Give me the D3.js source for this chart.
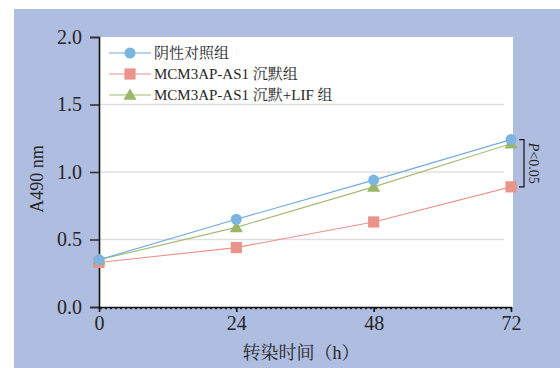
<!DOCTYPE html>
<html>
<head>
<meta charset="utf-8">
<script src="https://cdn.jsdelivr.net/npm/d3@7"></script>
<style>
  html, body { margin: 0; padding: 0; background: #ffffff; }
  svg { display: block; }
  text { font-family: "Liberation Serif", "Noto Serif CJK SC", "Noto Sans CJK SC", serif; fill: #262626; }
</style>
</head>
<body>
<svg id="chart" width="560" height="368"></svg>
<script>
// Time points (h) and absorbance at 490 nm for each group
const hours = [0, 24, 48, 72];
const controlValues = [0.35, 0.65, 0.94, 1.24];
const silenceValues = [0.33, 0.44, 0.63, 0.89];
const silenceLifValues = [0.35, 0.59, 0.89, 1.21];
const seriesNames = ["阴性对照组", "MCM3AP-AS1 沉默组", "MCM3AP-AS1 沉默+LIF 组"];
const yTicks = [0, 0.5, 1.0, 1.5, 2.0];
const xTicks = [0, 24, 48, 72];

const series = [
  { name: seriesNames[0], values: controlValues, line: "#6fa9dd", fill: "#7db5e1", shape: "circle" },
  { name: seriesNames[1], values: silenceValues, line: "#ea9088", fill: "#e9938b", shape: "square" },
  { name: seriesNames[2], values: silenceLifValues, line: "#a3bb73", fill: "#9db566", shape: "triangle" }
];

const svg = d3.select("#chart");

// Background panel and plotting area
svg.append("rect").attr("x", 14).attr("y", 9).attr("width", 546).attr("height", 359).attr("fill", "#aebde0");
svg.append("rect").attr("x", 99).attr("y", 37).attr("width", 414).attr("height", 270).attr("fill", "#ffffff");

const x = d3.scaleLinear().domain([0, 72]).range([99, 511]);
const y = d3.scaleLinear().domain([0, 2]).range([307, 37]);

// Horizontal gridlines
svg.append("g").selectAll("line").data(yTicks.filter(d => d > 0 && d < 2)).join("line")
  .attr("x1", 100).attr("x2", 504)
  .attr("y1", d => y(d)).attr("y2", d => y(d))
  .attr("stroke", "#e0e0e0").attr("stroke-width", 1.3);

// Y axis
const yAxis = svg.append("g").attr("transform", "translate(99,0)")
  .call(d3.axisLeft(y).tickValues(yTicks).tickFormat(d3.format(".1f")).tickSize(9).tickPadding(8));
yAxis.select(".domain").attr("stroke", "#111").attr("stroke-width", 1.6);
yAxis.selectAll(".tick line").attr("stroke", "#333").attr("stroke-width", 1.6);
yAxis.selectAll(".tick text").attr("font-size", 20).attr("fill", "#262626")
  .style("font-family", "'Liberation Serif', serif");

// X axis
const xAxis = svg.append("g").attr("transform", "translate(0,307)")
  .call(d3.axisBottom(x).tickValues(xTicks).tickSize(5).tickPadding(4).tickSizeOuter(0));
xAxis.select(".domain").attr("stroke", "#111").attr("stroke-width", 1.3);
xAxis.selectAll(".tick line").attr("stroke", "#111").attr("stroke-width", 1.6);
xAxis.selectAll(".tick text").attr("font-size", 20).attr("fill", "#262626")
  .style("font-family", "'Liberation Serif', serif");
// dotted edge under the x axis
svg.append("line").attr("x1", 100).attr("x2", 511).attr("y1", 308.5).attr("y2", 308.5)
  .attr("stroke", "#222").attr("stroke-width", 1.5).attr("stroke-dasharray", "2,3");

// Axis titles
svg.append("text").attr("transform", "translate(43,179) rotate(-90)")
  .attr("text-anchor", "middle").attr("font-size", 18).text("A490 nm");
svg.append("text").attr("x", 301).attr("y", 359).attr("text-anchor", "middle")
  .attr("font-size", 18).text("转染时间（h）");

// Markers
const symbolFor = { circle: d3.symbolCircle, square: d3.symbolSquare, triangle: d3.symbolTriangle };
const sizeFor = { circle: 95, square: 125, triangle: 75 };

function drawMarker(g, s, cx, cy) {
  g.append("path")
    .attr("d", d3.symbol().type(symbolFor[s.shape]).size(sizeFor[s.shape])())
    .attr("transform", `translate(${cx},${cy + (s.shape === "triangle" ? 1 : 0)})`)
    .attr("fill", s.fill);
}

const line = d3.line().x((d, i) => x(hours[i])).y(d => y(d));

// draw square series first, then triangle, then circle on top
[1, 2, 0].forEach(k => {
  const s = series[k];
  const g = svg.append("g");
  g.append("path").datum(s.values).attr("d", line)
    .attr("fill", "none").attr("stroke", s.line).attr("stroke-width", 1.1);
  s.values.forEach((v, i) => drawMarker(g, s, x(hours[i]), y(v)));
});

// Legend
const legend = svg.append("g");
series.forEach((s, i) => {
  const ly = 53 + i * 21;
  const g = legend.append("g");
  g.append("line").attr("x1", 109).attr("x2", 151).attr("y1", ly).attr("y2", ly)
    .attr("stroke", s.line).attr("stroke-width", 1.1);
  drawMarker(g, s, 130, ly);
  g.append("text").attr("x", 154).attr("y", ly + 5).attr("font-size", 15)
    .attr("fill", "#262626").text(s.name);
});

// Significance bracket between the control and silenced groups at 72 h
const bx = 524;
const yTop = y(controlValues[3]);
const yBot = y(silenceValues[3]);
svg.append("path")
  .attr("d", `M${bx - 5},${yTop} H${bx} V${yBot} H${bx - 5}`)
  .attr("fill", "none").attr("stroke", "#111").attr("stroke-width", 1.2);
const pt = svg.append("text")
  .attr("transform", `translate(${bx + 5},${(yTop + yBot) / 2}) rotate(90)`)
  .attr("text-anchor", "middle").attr("font-size", 14);
pt.append("tspan").attr("font-style", "italic").text("P");
pt.append("tspan").text("<0.05");
</script>
</body>
</html>
